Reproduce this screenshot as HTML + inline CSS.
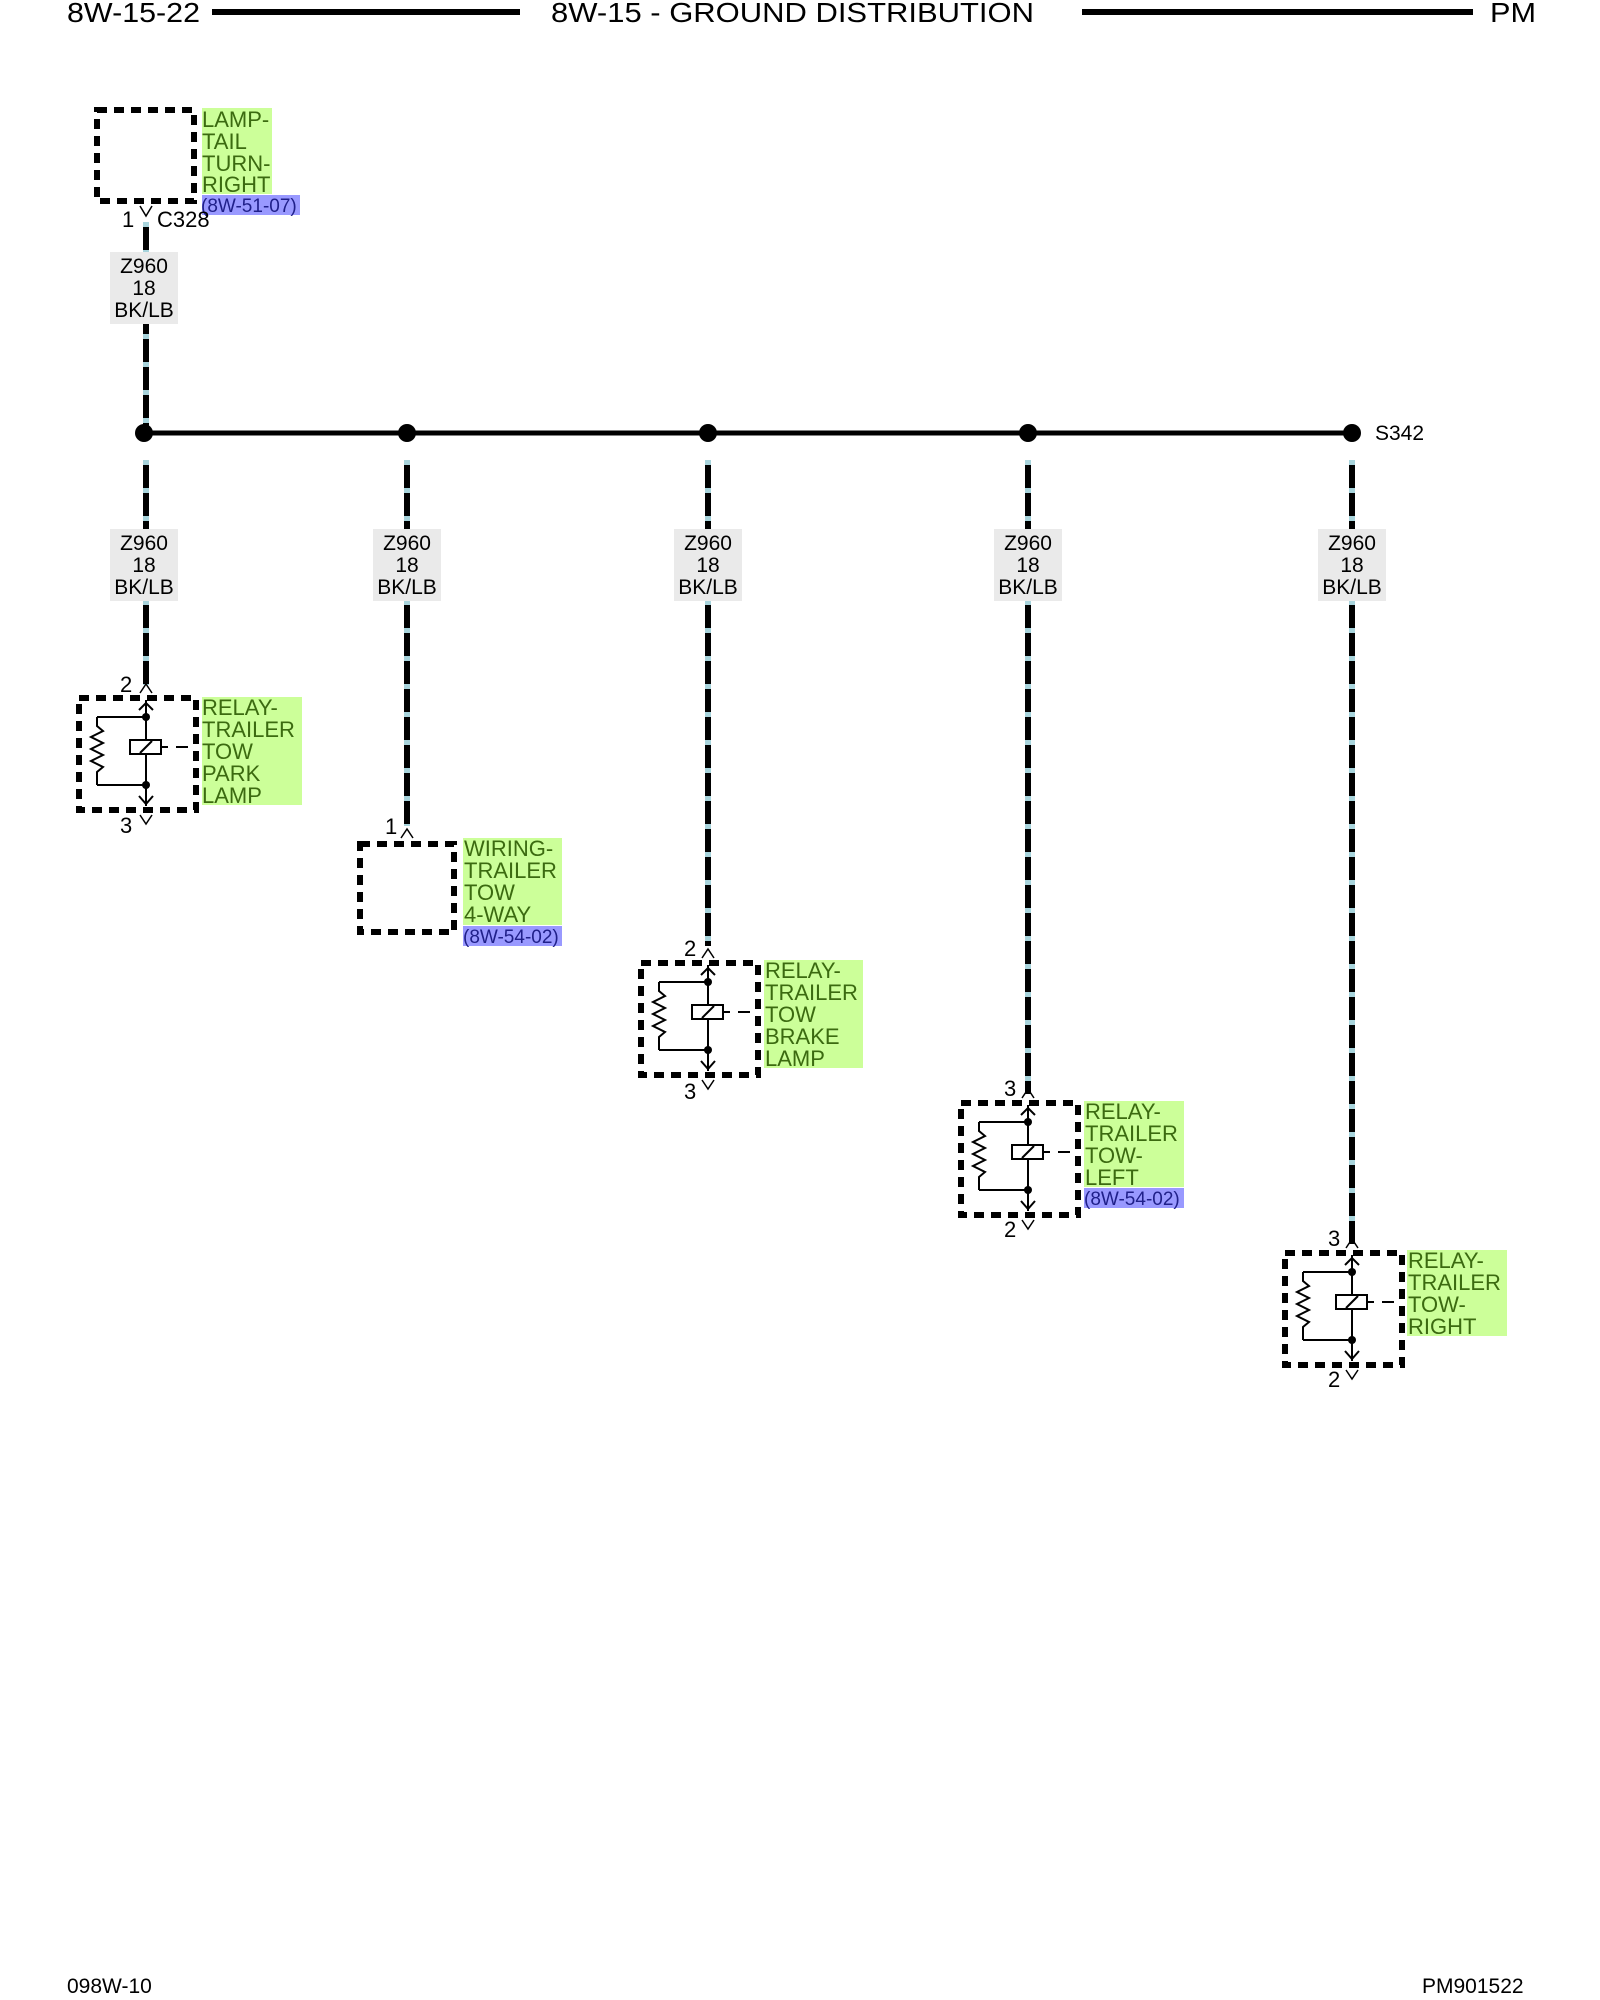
<!DOCTYPE html>
<html><head><meta charset="utf-8"><style>
html,body{margin:0;padding:0;background:#fff;}
svg{display:block;}
text{font-family:"Liberation Sans",Arial,sans-serif;}
</style></head><body>
<svg width="1600" height="2000" viewBox="0 0 1600 2000" xmlns="http://www.w3.org/2000/svg">
<defs>
<g id="relay">
  <rect x="-67" y="0" width="117" height="112" fill="none" stroke="#000" stroke-width="6" stroke-dasharray="10,7"/>
  <line x1="0" y1="19" x2="0" y2="87" stroke="#000" stroke-width="2"/>
  <line x1="-49" y1="19" x2="0" y2="19" stroke="#000" stroke-width="2"/>
  <line x1="-49" y1="87" x2="0" y2="87" stroke="#000" stroke-width="2"/>
  <polyline points="-49,19 -49,28 -43,33 -55,39 -43,45 -55,51 -43,57 -55,63 -43,69 -49,74 -49,87" fill="none" stroke="#000" stroke-width="2"/>
  <rect x="-16" y="42" width="31" height="14" fill="#fff" stroke="#000" stroke-width="2"/>
  <line x1="-6" y1="55" x2="6" y2="43" stroke="#000" stroke-width="2"/>
  <line x1="15" y1="49" x2="22" y2="49" stroke="#000" stroke-width="2"/>
  <line x1="30" y1="49" x2="42" y2="49" stroke="#000" stroke-width="2"/>
  <circle cx="0" cy="19" r="4"/><circle cx="0" cy="87" r="4"/>
  <line x1="0" y1="2" x2="0" y2="19" stroke="#000" stroke-width="2"/>
  <polyline points="-7,12 0,5 7,12" fill="none" stroke="#000" stroke-width="2"/>
  <line x1="0" y1="87" x2="0" y2="108" stroke="#000" stroke-width="2"/>
  <polyline points="-7,98 0,106 7,98" fill="none" stroke="#000" stroke-width="2"/>
  <polyline points="-6,-5 0,-14 6,-5" fill="none" stroke="#000" stroke-width="1.5"/>
  <polyline points="-6,117 0,126 6,117" fill="none" stroke="#000" stroke-width="1.5"/>
</g>
<g id="wlabel">
  <rect x="-34" y="0" width="68" height="72" fill="#eaeaea"/>
  <text x="0" y="21" font-size="21" text-anchor="middle">Z960</text>
  <text x="0" y="43" font-size="21" text-anchor="middle">18</text>
  <text x="0" y="65" font-size="21" text-anchor="middle">BK/LB</text>
</g>
</defs>

<text x="67" y="22" font-size="28" textLength="133" lengthAdjust="spacingAndGlyphs">8W-15-22</text>
<rect x="212" y="9" width="308" height="6" fill="#000"/>
<text x="551" y="22" font-size="28" textLength="483" lengthAdjust="spacingAndGlyphs">8W-15 - GROUND DISTRIBUTION</text>
<rect x="1082" y="9" width="391" height="6" fill="#000"/>
<text x="1490" y="22" font-size="28" textLength="46" lengthAdjust="spacingAndGlyphs">PM</text>

<rect x="97" y="110" width="97" height="91" fill="none" stroke="#000" stroke-width="6" stroke-dasharray="10,7"/>
<rect x="202" y="108" width="70" height="86" fill="#ccff99"/>
<g font-size="22" fill="#3b6a10">
<text x="202" y="127">LAMP-</text><text x="202" y="149">TAIL</text><text x="202" y="171">TURN-</text><text x="202" y="192">RIGHT</text>
</g>
<rect x="202" y="195" width="98" height="20" fill="#9999ff"/>
<text x="201" y="212" font-size="19" fill="#20208a">(8W-51-07)</text>
<polyline points="140,206 146,216 152,206" fill="none" stroke="#000" stroke-width="1.5"/>
<text x="122" y="227" font-size="22">1</text>
<text x="157" y="227" font-size="22">C328</text>

<g stroke="#000" stroke-width="6">
<line x1="146" y1="222" x2="146" y2="432"/>
<line x1="407" y1="460" x2="407" y2="826"/>
<line x1="708" y1="460" x2="708" y2="946"/>
<line x1="1028" y1="460" x2="1028" y2="1094"/>
<line x1="1352" y1="460" x2="1352" y2="1244"/>
<line x1="146" y1="460" x2="146" y2="685"/>
</g>
<g stroke="#a8d4dc" stroke-width="6" stroke-dasharray="5,23">
<line x1="146" y1="222" x2="146" y2="432"/>
<line x1="407" y1="460" x2="407" y2="826"/>
<line x1="708" y1="460" x2="708" y2="946"/>
<line x1="1028" y1="460" x2="1028" y2="1094"/>
<line x1="1352" y1="460" x2="1352" y2="1244"/>
<line x1="146" y1="460" x2="146" y2="685"/>
</g>
<use href="#wlabel" x="144" y="252"/>

<line x1="144" y1="433" x2="1352" y2="433" stroke="#000" stroke-width="5"/>
<circle cx="144" cy="433" r="9"/><circle cx="407" cy="433" r="9"/><circle cx="708" cy="433" r="9"/><circle cx="1028" cy="433" r="9"/><circle cx="1352" cy="433" r="9"/>
<text x="1375" y="440" font-size="21">S342</text>

<use href="#wlabel" x="144" y="529"/>
<use href="#wlabel" x="407" y="529"/>
<use href="#wlabel" x="708" y="529"/>
<use href="#wlabel" x="1028" y="529"/>
<use href="#wlabel" x="1352" y="529"/>

<use href="#relay" x="146" y="698"/>
<text x="120" y="692" font-size="22">2</text><text x="120" y="833" font-size="22">3</text>
<rect x="202" y="697" width="100" height="108" fill="#ccff99"/>
<g font-size="22" fill="#3b6a10">
<text x="202" y="715">RELAY-</text><text x="202" y="737">TRAILER</text><text x="202" y="759">TOW</text><text x="202" y="781">PARK</text><text x="202" y="803">LAMP</text>
</g>

<rect x="360" y="844" width="94" height="88" fill="none" stroke="#000" stroke-width="6" stroke-dasharray="10,7"/>
<polyline points="401,838 407,829 413,838" fill="none" stroke="#000" stroke-width="1.5"/>
<text x="385" y="834" font-size="22">1</text>
<rect x="463" y="838" width="99" height="87" fill="#ccff99"/>
<g font-size="22" fill="#3b6a10">
<text x="464" y="856">WIRING-</text><text x="464" y="878">TRAILER</text><text x="464" y="900">TOW</text><text x="464" y="922">4-WAY</text>
</g>
<rect x="463" y="926" width="99" height="20" fill="#9999ff"/>
<text x="463" y="943" font-size="19" fill="#20208a">(8W-54-02)</text>

<use href="#relay" x="708" y="963"/>
<text x="684" y="956" font-size="22">2</text><text x="684" y="1099" font-size="22">3</text>
<rect x="764" y="960" width="99" height="108" fill="#ccff99"/>
<g font-size="22" fill="#3b6a10">
<text x="765" y="978">RELAY-</text><text x="765" y="1000">TRAILER</text><text x="765" y="1022">TOW</text><text x="765" y="1044">BRAKE</text><text x="765" y="1066">LAMP</text>
</g>

<use href="#relay" x="1028" y="1103"/>
<text x="1004" y="1096" font-size="22">3</text><text x="1004" y="1237" font-size="22">2</text>
<rect x="1084" y="1101" width="100" height="86" fill="#ccff99"/>
<g font-size="22" fill="#3b6a10">
<text x="1085" y="1119">RELAY-</text><text x="1085" y="1141">TRAILER</text><text x="1085" y="1163">TOW-</text><text x="1085" y="1185">LEFT</text>
</g>
<rect x="1084" y="1188" width="100" height="20" fill="#9999ff"/>
<text x="1084" y="1205" font-size="19" fill="#20208a">(8W-54-02)</text>

<use href="#relay" x="1352" y="1253"/>
<text x="1328" y="1246" font-size="22">3</text><text x="1328" y="1387" font-size="22">2</text>
<rect x="1407" y="1250" width="100" height="86" fill="#ccff99"/>
<g font-size="22" fill="#3b6a10">
<text x="1408" y="1268">RELAY-</text><text x="1408" y="1290">TRAILER</text><text x="1408" y="1312">TOW-</text><text x="1408" y="1334">RIGHT</text>
</g>

<text x="67" y="1993" font-size="21">098W-10</text>
<text x="1422" y="1993" font-size="21">PM901522</text>
</svg>
</body></html>
